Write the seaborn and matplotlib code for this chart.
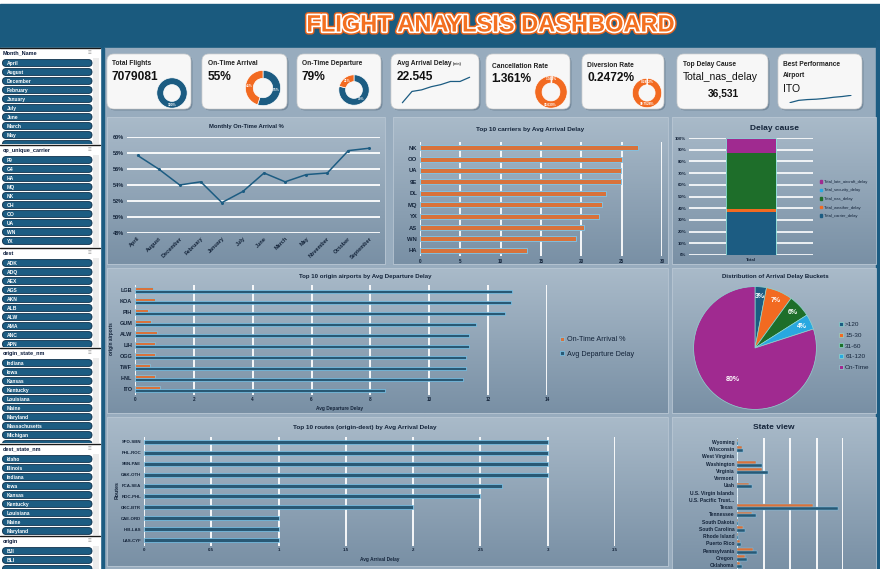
import numpy as np
import pandas as pd
import seaborn as sns
import matplotlib.pyplot as plt
import matplotlib.patheffects as pe
from matplotlib.patches import FancyBboxPatch, Rectangle, Patch
from matplotlib.colors import LinearSegmentedColormap

sns.set_theme(style='white')
plt.rcParams['font.family'] = ['Liberation Sans', 'DejaVu Sans']

W, H = 880, 569
NAVY = '#1c5c82'
ORANGE = '#f26a21'
GREEN = '#1e6e2a'
SKY = '#29a8e0'
MAGENTA = '#a02a90'
EDGE = '#7cc8ee'
TXT = '#14243a'

# ---------------- data ----------------
months = ['April', 'August', 'December', 'February', 'January', 'July', 'June',
          'March', 'May', 'November', 'October', 'September']
ontime_pct = [57.7, 56.0, 54.0, 54.4, 51.8, 53.2, 55.5, 54.4, 55.3, 55.5, 58.3, 58.6]

carriers = ['NK', 'OO', 'UA', '9E', 'DL', 'MQ', 'YX', 'AS', 'WN', 'HA']
carrier_delay = [27.0, 25.0, 24.9, 24.9, 23.0, 22.5, 22.2, 20.3, 19.3, 13.3]

delay_causes = ['Total_carrier_delay', 'Total_weather_delay', 'Total_nas_delay',
                'Total_security_delay', 'Total_late_aircraft_delay']
delay_share = [36.9, 2.6, 47.7, 0.1, 12.7]

origin_airports = ['LGB', 'KOA', 'PIH', 'GUM', 'ALW', 'LIH', 'OGG', 'TWF', 'HNL', 'ITO']
origin_dep_delay = [12.8, 12.77, 12.57, 11.59, 11.35, 11.35, 11.25, 11.25, 11.15, 8.5]
origin_ontime = [0.62, 0.68, 0.43, 0.53, 0.75, 0.68, 0.68, 0.52, 0.68, 0.85]

routes = ['SFO-SBN', 'PHL-ROC', 'SBN-PAE', 'OAK-OTH', 'FCA-SEA', 'ROC-PHL',
          'OKC-BTR', 'CAE-ORD', 'HIB-LAS', 'LAS-CYF']
route_delay = [3.0, 3.0, 3.0, 3.0, 2.66, 2.5, 2.0, 1.0, 1.0, 1.0]

buckets = ['>120', '15-30', '31-60', '61-120', 'On-Time']
bucket_share = [3, 7, 6, 4, 80]

states = ['Wyoming', 'Wisconsin', 'West Virginia', 'Washington', 'Virginia', 'Vermont',
          'Utah', 'U.S. Virgin Islands', 'U.S. Pacific Trust Territories', 'Texas',
          'Tennessee', 'South Dakota', 'South Carolina', 'Rhode Island', 'Puerto Rico',
          'Pennsylvania', 'Oregon', 'Oklahoma']
state_orange = [2, 19, 0, 72, 95, 0, 47, 0, 0, 285, 57, 3, 23, 3, 10, 60, 32, 12]
state_blue = [3, 23, 0, 95, 118, 0, 57, 0, 0, 380, 73, 3, 32, 3, 15, 77, 39, 19]

kpi_titles = ['Total Flights', 'On-Time Arrival', 'On-Time Departure', 'Avg Arrival Delay',
              'Cancellation Rate', 'Diversion Rate', 'Top Delay Cause', 'Best Performance\nAirport']
kpi_values = ['7079081', '55%', '79%', '22.545', '1.361%', '0.2472%', 'Total_nas_delay', 'ITO']
top_cause_value = '36,531'
ring_total = [100]
ring_arrival = [55, 45]
ring_departure = [79, 21]
ring_cancel = [1.361, 98.639]
ring_divert = [0.2472, 99.7528]
avg_delay_trend = [16.5, 20.8, 21.4, 22.6, 23.4, 24.6, 24.6, 26.2]
best_airport_trend = [0.0, 0.6, 0.8, 0.9, 1.1, 1.4, 1.6, 1.9]

slicer_month = ['April', 'August', 'December', 'February', 'January', 'July', 'June',
                'March', 'May', 'November']
slicer_carrier = ['F9', 'G4', 'HA', 'MQ', 'NK', 'OH', 'OO', 'UA', 'WN', 'YX']
slicer_dest = ['ADK', 'ADQ', 'AEX', 'AGS', 'AKN', 'ALB', 'ALW', 'AMA', 'ANC', 'APN']
slicer_origin_state = ['Indiana', 'Iowa', 'Kansas', 'Kentucky', 'Louisiana', 'Maine',
                       'Maryland', 'Massachusetts', 'Michigan', 'Minnesota']
slicer_dest_state = ['Idaho', 'Illinois', 'Indiana', 'Iowa', 'Kansas', 'Kentucky',
                     'Louisiana', 'Maine', 'Maryland']
slicer_origin = ['BJI', 'BLI', 'BLV']

# ---------------- canvas ----------------
fig = plt.figure(figsize=(8.8, 5.69), dpi=100)
fig.patch.set_facecolor('white')

bg = fig.add_axes([0, 0, 1, 1])
bg.axis('off')


def px_axes(x0, y0, x1, y1):
    ax = fig.add_axes([x0 / W, 1 - y1 / H, (x1 - x0) / W, (y1 - y0) / H])
    ax.patch.set_alpha(0)
    return ax


bg.add_patch(Rectangle((0, 4), W, 44, color='#1a5a7e'))
bg.add_patch(Rectangle((104, 48), 772, 521, color='#98acbe'))
bg.add_patch(Rectangle((100, 48), 4, 521, color=NAVY))
bg.add_patch(Rectangle((876, 40), 4, 529, color=NAVY))
bg.text(491, 25, 'FLIGHT ANAYLSIS DASHBOARD', ha='center', va='center', fontsize=17,
        fontweight='heavy', color='#f47020',
        path_effects=[pe.Stroke(linewidth=4.5, foreground='#e8641c'),
                      pe.Stroke(linewidth=2.4, foreground='white'), pe.Normal()])

# chart panels with gradient
panel_cmap = LinearSegmentedColormap.from_list('panel', ['#a9bac9', '#7990a5'])
grad = np.linspace(0, 1, 64).reshape(-1, 1)
panels = [(107, 117, 385, 264), (393, 117, 668, 264), (672, 117, 876, 264),
          (107, 268, 668, 413), (672, 268, 876, 413),
          (107, 417, 668, 566), (672, 417, 876, 572)]
for x0, y0, x1, y1 in panels:
    bg.imshow(grad, cmap=panel_cmap, extent=(x0, x1, y1, y0), aspect='auto', zorder=1)
    bg.add_patch(Rectangle((x0, y0), x1 - x0, y1 - y0, fill=False, ec='#b8c6d3', lw=0.6, zorder=2))

# KPI cards
cards = [(107, 191), (202, 287), (297, 381), (391, 479), (486, 570), (582, 664), (677, 768), (778, 862)]
for x0, x1 in cards:
    bg.add_patch(FancyBboxPatch((x0 + 1.5, 55.5), x1 - x0, 55, boxstyle='round,pad=0,rounding_size=7',
                                fc='#5f7487', ec='none', alpha=0.6, zorder=2))
    bg.add_patch(FancyBboxPatch((x0, 54), x1 - x0, 55, boxstyle='round,pad=0,rounding_size=7',
                                fc='#f7f7f7', ec='#d0d0d0', lw=0.5, zorder=3))

title_pos = [(112, 63), (208, 63), (302, 63), (397, 63), (492, 66), (587, 65), (683, 64), (783, 70)]
value_pos = [(112, 77), (208, 77), (302, 77), (397, 77), (491, 79), (587, 78), (683, 77), (783, 89)]
for i, (t, v) in enumerate(zip(kpi_titles, kpi_values)):
    bg.text(*title_pos[i], t, fontsize=4.8, fontweight='bold', color='#222222',
            va='center', ha='left', zorder=5, linespacing=1.9)
    special = i in (6, 7)
    bg.text(*value_pos[i], v, fontsize=7.5 if special else 8.6,
            fontweight='normal' if special else 'bold', color='#111111',
            va='center', ha='left', zorder=5)
bg.text(453, 64, '(min)', fontsize=2.6, fontweight='bold', color='#333333', va='center', zorder=5)
bg.text(723, 93, top_cause_value, fontsize=7.3, fontweight='bold', color='#111111',
        ha='center', va='center', zorder=5)


def ring(cx, cy, r, values, colors, fmt):
    ax = px_axes(cx - r, cy - r, cx + r, cy + r)
    ax.pie(values, colors=colors, startangle=90, counterclock=False,
           autopct=fmt, pctdistance=0.78,
           textprops=dict(color='white', fontsize=2.3, fontweight='bold'),
           wedgeprops=dict(width=0.45, edgecolor='white', linewidth=0.5))
    ax.set_xlim(-1.02, 1.02)
    ax.set_ylim(-1.02, 1.02)
    ax.set_aspect('equal')


ring(172, 93, 15.5, ring_total, [NAVY], '%d%%')
ring(263, 88, 18, ring_arrival, [NAVY, ORANGE], '%d%%')
ring(354, 90, 15.5, ring_departure, [NAVY, ORANGE], '%d%%')
ring(551, 92, 16.5, ring_cancel, [ORANGE, ORANGE], '%.3f%%')
ring(647, 93, 15, ring_divert, [ORANGE, ORANGE], '%.4f%%')

sp = px_axes(399, 76, 473, 104)
sns.lineplot(x=range(len(avg_delay_trend)), y=avg_delay_trend, color=NAVY, lw=0.9, ax=sp)
sp.axis('off')
sp2 = px_axes(787, 95, 854, 103)
sns.lineplot(x=range(len(best_airport_trend)), y=best_airport_trend, color=NAVY, lw=0.9, ax=sp2)
sp2.axis('off')

# ---------------- slicers ----------------
slicers = [('Month_Name', slicer_month, 48, 145),
           ('op_unique_carrier', slicer_carrier, 145, 248),
           ('dest', slicer_dest, 248, 348),
           ('origin_state_nm', slicer_origin_state, 348, 444),
           ('dest_state_nm', slicer_dest_state, 444, 536),
           ('origin', slicer_origin, 536, 575)]
bg.add_patch(Rectangle((0, 48), 100, 521, color='white', zorder=2))
for name, items, top, bottom in slicers:
    clip = Rectangle((0, top), 100, bottom - top - 1.5, transform=bg.transData)
    bg.plot([0, 100], [top, top], color='#1a1a1a', lw=1.0, zorder=6)
    bg.text(3, top + 5.3, name, fontsize=4.0, fontweight='bold', color='#0c1c3c', va='center', zorder=6)
    bg.text(88, top + 5.3, '\u2261', fontsize=4.5, color='#9a9a9a', va='center', zorder=6)
    bg.add_patch(Rectangle((93, top + 10), 6, bottom - top - 11, fc='#ececec', ec='none', zorder=3))
    for k, item in enumerate(items):
        c = top + 15 + 9 * k
        p = FancyBboxPatch((2.5, c - 3.4), 89.5, 6.8, boxstyle='round,pad=0,rounding_size=3.4',
                           fc=NAVY, ec='#0b2d48', lw=0.6, zorder=4)
        bg.add_patch(p)
        p.set_clip_path(clip)
        if c + 3 < min(bottom, H):
            bg.text(7, c + 0.2, item, fontsize=3.6, fontweight='bold', color='white',
                    va='center', zorder=5)


def style_axis(ax, labelsize=4):
    for s in ax.spines.values():
        s.set_visible(False)
    ax.tick_params(length=0, labelsize=labelsize, colors=TXT, pad=2)
    for lab in ax.get_xticklabels() + ax.get_yticklabels():
        lab.set_fontweight('bold')
    ax.set_xlabel('')
    ax.set_ylabel('')


def chart_title(x, y, s, size):
    bg.text(x, y, s, ha='center', va='center', fontsize=size, fontweight='bold', color=TXT, zorder=5)


# ---------------- Monthly on-time ----------------
ax = px_axes(127, 137, 380, 233)
df_month = pd.DataFrame({'month': months, 'pct': ontime_pct})
sns.lineplot(data=df_month, x='month', y='pct', sort=False, color=NAVY, lw=1.1,
             marker='o', markersize=2.2, markeredgewidth=0, ax=ax)
ax.set_xlim(-0.5, 11.5)
ax.set_ylim(48, 60)
ax.set_yticks(range(48, 61, 2))
ax.set_yticklabels([f'{v}%' for v in range(48, 61, 2)])
ax.set_xticks(range(len(months)))
ax.set_xticklabels(months, rotation=45, ha='right', rotation_mode='anchor')
ax.yaxis.grid(True, color='white', lw=1.3)
ax.set_axisbelow(True)
style_axis(ax, 4)
chart_title(246, 126, 'Monthly On-Time Arrival %', 4.2)

# ---------------- Top 10 carriers ----------------
ax = px_axes(420, 142, 662, 256)
sns.barplot(x=carrier_delay, y=carriers, orient='h', color=ORANGE, edgecolor=EDGE,
            linewidth=0.6, width=0.45, errorbar=None, ax=ax)
ax.set_xlim(0, 30)
ax.set_xticks(range(0, 31, 5))
ax.xaxis.grid(True, color='white', lw=1.3)
ax.set_axisbelow(True)
style_axis(ax, 4.2)
ax.tick_params(axis='x', labelsize=3.3)
chart_title(530, 129, 'Top 10 carriers by Avg Arrival Delay', 4.6)

# ---------------- Delay cause ----------------
ax = px_axes(689, 138, 813, 255)
bottom = 0
handles = []
cause_colors = [NAVY, ORANGE, GREEN, SKY, MAGENTA]
for name, share, col in zip(delay_causes, delay_share, cause_colors):
    ax.bar(['Total'], [share], bottom=bottom, width=0.4, color=col, edgecolor='none', zorder=3)
    bottom += share
    handles.append(Patch(color=col, label=name))
ax.bar(['Total'], [bottom], width=0.4, fill=False, edgecolor='#8fe3dc', lw=0.6, zorder=4)
ax.set_xlim(-0.5, 0.5)
ax.set_ylim(0, 100)
ax.set_yticks(range(0, 101, 10))
ax.set_yticklabels([f'{v}%' for v in range(0, 101, 10)])
ax.yaxis.grid(True, color='white', lw=1.2)
ax.set_axisbelow(True)
style_axis(ax, 3.2)
ax.legend(handles=handles[::-1], loc='center left', bbox_to_anchor=(816 / W, 1 - 199 / H),
          bbox_transform=fig.transFigure, frameon=False, fontsize=3.0, handlelength=0.6,
          handleheight=0.6, labelspacing=1.1, handletextpad=0.4, labelcolor=TXT)
chart_title(775, 128, 'Delay cause', 6)

# ---------------- Origin airports ----------------
ax = px_axes(135, 284.5, 547, 394.5)
df_origin = pd.DataFrame({
    'airport': origin_airports * 2,
    'metric': ['On-Time Arrival %'] * len(origin_airports) + ['Avg Departure Delay'] * len(origin_airports),
    'value': origin_ontime + origin_dep_delay,
})
sns.barplot(data=df_origin, x='value', y='airport', hue='metric', orient='h',
            hue_order=['On-Time Arrival %', 'Avg Departure Delay'], palette=[ORANGE, NAVY],
            width=0.62, edgecolor=EDGE, linewidth=0.5, errorbar=None, ax=ax)
ax.set_xlim(0, 14)
ax.set_xticks(range(0, 15, 2))
ax.xaxis.grid(True, color='white', lw=1.3)
ax.set_axisbelow(True)
style_axis(ax, 4.0)
ax.tick_params(axis='x', labelsize=3.3)
sns.move_legend(ax, 'center left', bbox_to_anchor=(553 / W, 1 - 347 / H),
                bbox_transform=fig.transFigure, frameon=False, title=None, fontsize=5.2,
                handlelength=0.6, handleheight=0.6, labelspacing=1.0, handletextpad=0.4,
                labelcolor=TXT)
bg.text(340, 408, 'Avg Departure Delay', ha='center', va='center', fontsize=3.4,
        fontweight='bold', color=TXT, zorder=5)
bg.text(112, 339, 'origin airports', ha='center', va='center', rotation=90, fontsize=3.4,
        fontweight='bold', color=TXT, zorder=5)
chart_title(365, 276, 'Top 10 origin airports by Avg Departure Delay', 4.4)

# ---------------- Pie ----------------
ax = px_axes(693, 286, 817, 410)
wedges, _, autotexts = ax.pie(bucket_share, colors=[NAVY, ORANGE, GREEN, SKY, MAGENTA],
                              startangle=90, counterclock=False, autopct='%d%%', pctdistance=0.84,
                              textprops=dict(color='white', fontsize=5, fontweight='bold'),
                              wedgeprops=dict(edgecolor='#8fd6cf', linewidth=0.5))
x80, y80 = autotexts[-1].get_position()
autotexts[-1].set_position((x80 * 0.75, y80 * 0.75))
ax.set_xlim(-1.01, 1.01)
ax.set_ylim(-1.01, 1.01)
ax.set_aspect('equal')
ax.legend(wedges, buckets, loc='center left', bbox_to_anchor=(833 / W, 1 - 346 / H),
          bbox_transform=fig.transFigure, frameon=False, fontsize=4.6, handlelength=0.6,
          handleheight=0.6, labelspacing=0.85, handletextpad=0.4, labelcolor=TXT)
chart_title(775, 276, 'Distribution of Arrival Delay Buckets', 4.4)

# ---------------- Routes ----------------
ax = px_axes(144, 436.5, 615, 545.5)
sns.barplot(x=route_delay, y=routes, orient='h', color=NAVY, edgecolor=EDGE,
            linewidth=0.5, width=0.36, errorbar=None, ax=ax)
ax.set_xlim(0, 3.5)
ticks = np.arange(0, 3.51, 0.5)
ax.set_xticks(ticks)
ax.set_xticklabels([f'{t:g}' for t in ticks])
ax.xaxis.grid(True, color='white', lw=1.3)
ax.set_axisbelow(True)
style_axis(ax, 3.2)
bg.text(380, 559, 'Avg Arrival Delay', ha='center', va='center', fontsize=3.4,
        fontweight='bold', color=TXT, zorder=5)
bg.text(117, 490, 'Routes', ha='center', va='center', rotation=90, fontsize=3.8,
        fontweight='bold', color=TXT, zorder=5)
chart_title(365, 427, 'Top 10 routes (origin-dest) by Avg Arrival Delay', 4.6)

# ---------------- State view ----------------
ax = px_axes(737, 438.4, 843, 569)
df_state = pd.DataFrame({
    'state': states * 2,
    'series': ['a'] * len(states) + ['b'] * len(states),
    'value': state_orange + state_blue,
})
sns.barplot(data=df_state, x='value', y='state', hue='series', orient='h',
            palette=[ORANGE, NAVY], width=0.8, edgecolor=EDGE, linewidth=0.3,
            errorbar=None, legend=False, ax=ax)
ax.set_xlim(0, 400)
ax.set_ylim(17.54, -0.5)
ax.set_xticks(range(0, 401, 100))
ax.set_yticks(range(len(states)))
ax.set_yticklabels([s if len(s) < 20 else s[:18] + '...' for s in states])
ax.xaxis.grid(True, color='white', lw=1.3)
ax.set_axisbelow(True)
style_axis(ax, 3.6)
ax.tick_params(axis='x', labelbottom=False)
chart_title(774, 427, 'State view', 6)

bg.set_xlim(0, W)
bg.set_ylim(H, 0)
fig.savefig('out.png', dpi=100, facecolor='white')
